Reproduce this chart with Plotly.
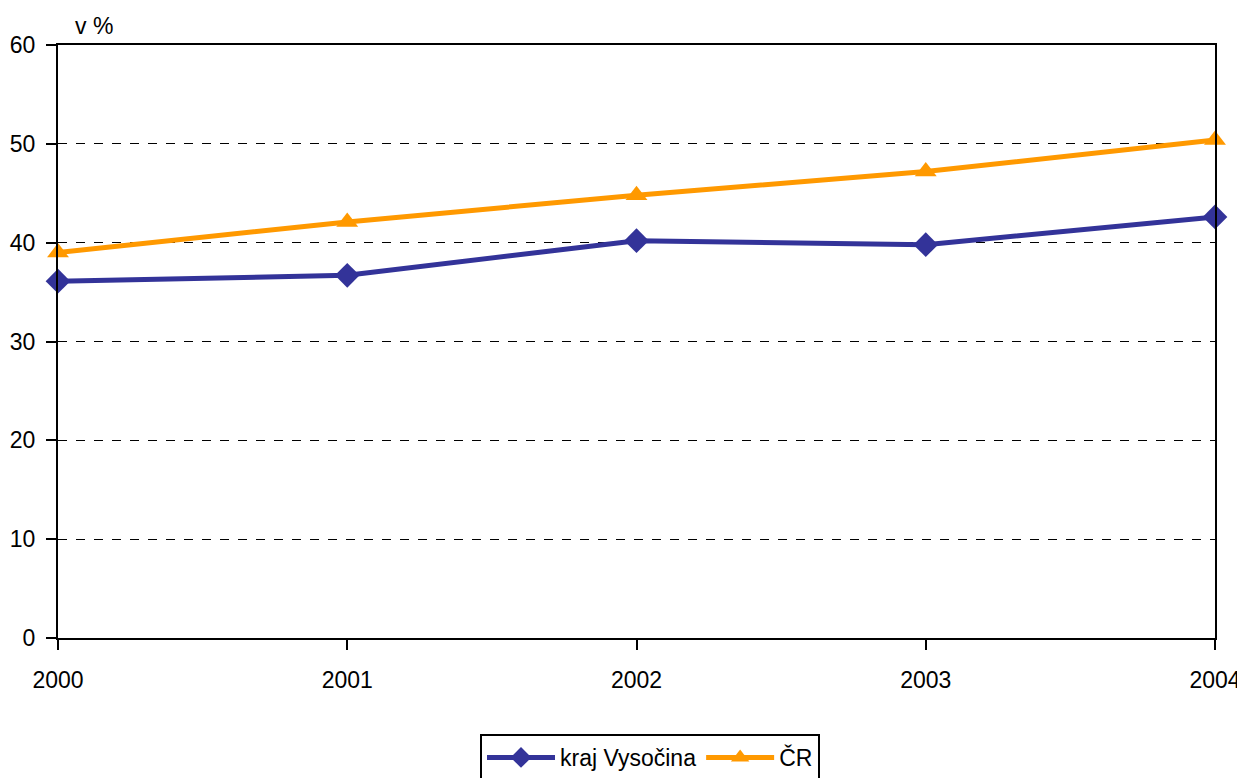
import plotly.graph_objects as go

years = [2000, 2001, 2002, 2003, 2004]
year_labels = ["2000", "2001", "2002", "2003", "2004"]
vysocina = [36.1, 36.7, 40.2, 39.8, 42.6]
cr = [39.0, 42.1, 44.8, 47.2, 50.4]
y_ticks = [0, 10, 20, 30, 40, 50, 60]

W, H = 1245, 770

fig = go.Figure()
fig.add_trace(go.Scatter(
    x=years, y=vysocina, name="kraj Vysočina", mode="lines+markers",
    line=dict(color="#333399", width=5),
    marker=dict(symbol="diamond", size=19, color="#333399"),
    cliponaxis=False,
))
fig.add_trace(go.Scatter(
    x=years, y=cr, name="ČR", mode="lines+markers",
    line=dict(color="#FF9900", width=5),
    marker=dict(symbol="triangle-up", size=19, color="#FF9900"),
    cliponaxis=False,
))

font = dict(family="Liberation Sans, Arial, sans-serif", size=23, color="black")

fig.update_layout(
    width=W, height=H,
    margin=dict(l=50, r=W - 1207, t=37, b=H - 630),
    paper_bgcolor="white", plot_bgcolor="white",
    font=font,
    showlegend=True,
    legend=dict(
        orientation="h", xref="container", yref="container",
        x=642 / W, xanchor="center", y=1 - 726 / H, yanchor="top",
        bordercolor="black", borderwidth=2, font=font,
        itemwidth=68, tracegroupgap=0,
    ),
    xaxis=dict(
        range=[2000, 2004], tickvals=years, ticktext=year_labels,
        showgrid=False, showline=True, linecolor="black", linewidth=2,
        mirror=True, ticks="outside", ticklen=10, tickwidth=2, tickcolor="black",
        zeroline=False, tickfont=font, automargin=False, ticklabelstandoff=10,
    ),
    yaxis=dict(
        range=[0, 60], tickvals=y_ticks,
        showgrid=True, gridcolor="black", gridwidth=1, griddash="dash",
        showline=True, linecolor="black", linewidth=2, mirror=True,
        ticks="outside", ticklen=10, tickwidth=2, tickcolor="black",
        zeroline=False, tickfont=font, automargin=False, ticklabelstandoff=6,
    ),
    annotations=[dict(
        text="v %", xref="paper", yref="paper", x=0, y=1.0, xshift=15, yshift=4,
        xanchor="left", yanchor="bottom", showarrow=False, font=font,
    )],
)

fig.write_html("out.html")
